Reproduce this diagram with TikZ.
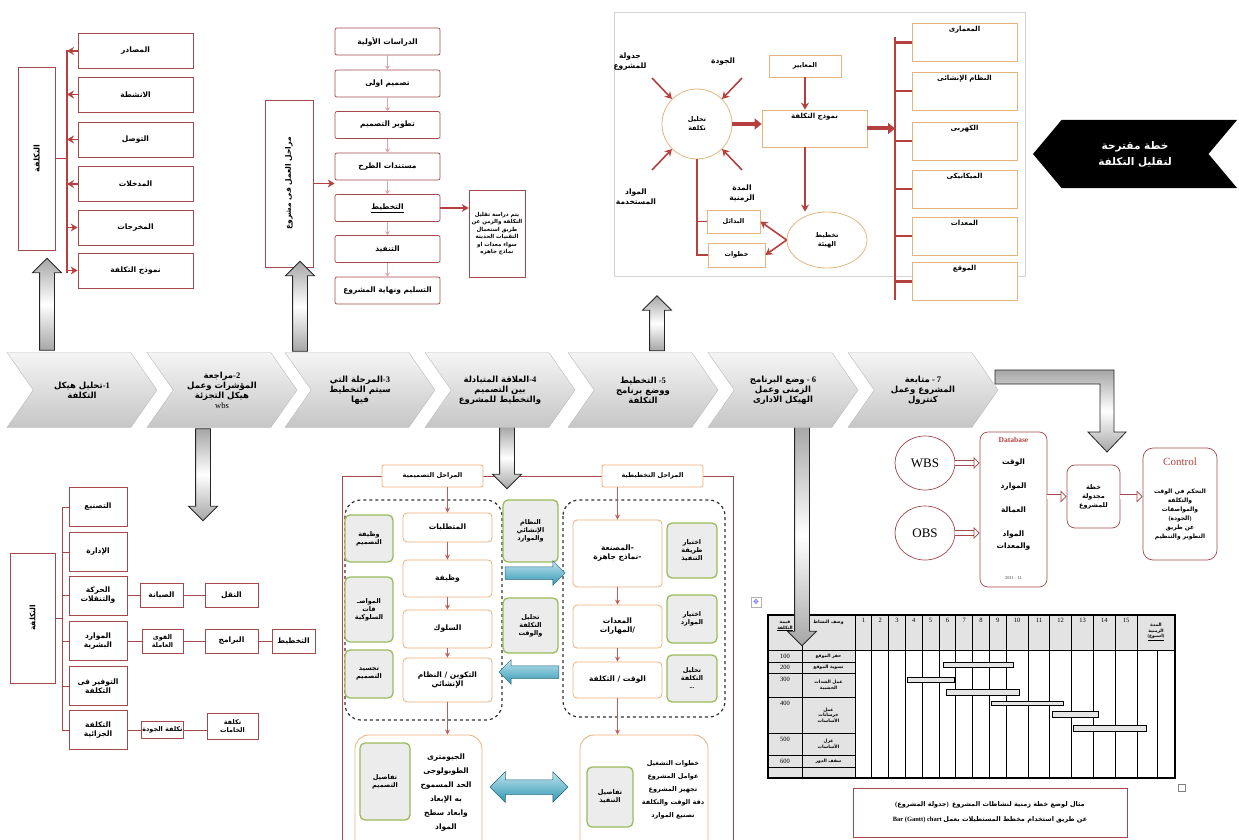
\documentclass[tikz,border=0pt]{standalone}
\usepackage{fontspec}
\setmainfont{Liberation Serif}
\newfontfamily\arabicfont[Script=Arabic]{DejaVu Sans}
\newfontfamily\symfont{DejaVu Sans}
\TeXXeTstate=1
\usepackage{xcolor}
\usepackage{tikz}
\usetikzlibrary{arrows.meta,positioning,shapes.symbols,shapes.arrows,shapes.geometric}

\definecolor{darkred}{HTML}{B5403F}
\definecolor{boxred}{HTML}{A5484B}
\definecolor{tanline}{HTML}{E4B47C}
\definecolor{orangeline}{HTML}{F0AE78}
\definecolor{greenline}{HTML}{9BBB59}
\definecolor{cyanarr}{HTML}{35A8C8}
\definecolor{pinkarr}{HTML}{E2A3A3}

\newcommand{\artxt}[1]{{\arabicfont\beginR #1\endR}}

\begin{document}
\begin{tikzpicture}[
  x=1pt, y=-1pt,
  every node/.style={font=\bfseries\fontsize{7.5}{9}\selectfont, inner sep=1pt, align=center},
  redbox/.style={draw=boxred, line width=0.7pt},
  costitem/.style={redbox, minimum width=115pt, minimum height=35pt},
  stagebox/.style={redbox, rounded corners=2pt, minimum width=105pt, minimum height=27pt},
  cbox/.style={redbox, minimum width=58pt, minimum height=39pt},
  sbox/.style={redbox, minimum height=24pt},
  tanbox/.style={draw=tanline, line width=0.8pt, fill=white, minimum width=105pt, minimum height=38pt},
  tanlab/.style={anchor=north, inner sep=3pt, font=\bfseries\fontsize{7}{8}\selectfont},
  orbox/.style={draw=orangeline, line width=0.8pt, fill=white, rounded corners=4pt},
  grbox/.style={draw=greenline, line width=1.3pt, fill=gray!15, rounded corners=5pt},
  dashzone/.style={draw=black!80, dashed, line width=1.2pt, rounded corners=16pt},
  chev/.style={signal, signal to=east, signal from=west, signal pointer angle=110,
    draw=gray!55, top color=gray!8, bottom color=gray!45, minimum width=150pt,
    minimum height=75pt, font=\bfseries\fontsize{8.5}{10}\selectfont},
  blockarr/.style={single arrow, draw=black!85, line width=0.8pt, top color=gray!70,
    bottom color=gray!70, middle color=white, inner xsep=0pt, inner ysep=7pt,
    minimum width=28pt, single arrow head extend=7pt, single arrow head indent=0pt},
  cyarr/.style={single arrow, draw=cyanarr!60!black, line width=0.5pt, top color=cyanarr!30,
    bottom color=cyanarr!90!black, inner xsep=0pt, inner ysep=6pt, minimum width=24pt,
    single arrow head extend=6pt},
  cyboth/.style={double arrow, draw=cyanarr!60!black, line width=0.5pt, top color=cyanarr!30,
    bottom color=cyanarr!90!black, inner xsep=0pt, inner ysep=7pt, minimum width=30pt,
    double arrow head extend=8pt},
  rarr/.style={-{Stealth[length=7pt,width=8pt]}, draw=darkred, line width=1.6pt},
  sarr/.style={-{Stealth[length=5pt,width=5pt]}, draw=darkred!85, line width=0.9pt},
  parr/.style={-{Stealth[length=4pt,width=5pt]}, draw=pinkarr, line width=1.2pt},
  fatarr/.style={-{Triangle[length=7pt,width=11pt]}, draw=darkred, line width=4pt},
  hollow/.style={draw=boxred, line width=0.7pt, double=white, double distance=4pt,
    -{Triangle[open, length=6pt, width=12pt]}},
  rline/.style={draw=boxred, line width=0.8pt},
  trunkline/.style={draw=darkred, line width=2.5pt},
  tinytxt/.style={font=\bfseries\fontsize{4.5}{5.5}\selectfont},
  numtxt/.style={font=\fontsize{6.5}{7}\selectfont}
]
\useasboundingbox (0,0) rectangle (1239,840);

% ---- cost breakdown (top left)
\node[redbox, rotate=90, minimum width=183pt, minimum height=37pt, font=\bfseries\fontsize{8}{9}\selectfont] (costbig) at (36.5,158.5) {\artxt{التكلفة}};
\coordinate (trtl) at (67,50);
\coordinate (trbl) at (67,273);
\draw[rline, draw=darkred, line width=1.4pt] (trtl) -- (trbl);
\draw[rline, draw=darkred, line width=1.4pt] (costbig.south) -- (costbig.south -| trtl);
\node[costitem] (srcs) at (135.5,51) {\artxt{المصادر}};
\node[costitem] (acts) at (135.5,94.5) {\artxt{الانشطة}};
\node[costitem] (reach) at (135.5,139.5) {\artxt{التوصل}};
\node[costitem] (inputs) at (135.5,184) {\artxt{المدخلات}};
\node[costitem] (outputs) at (135.5,227.5) {\artxt{المخرجات}};
\node[costitem] (cmodel) at (135.5,270.5) {\artxt{نموذج التكلفة}};
\draw[rarr] (srcs.west) -- (srcs.west -| trtl);
\draw[rarr] (acts.west) -- (acts.west -| trtl);
\draw[rarr] (reach.west) -- (reach.west -| trtl);
\draw[rarr] (inputs.west) -- (inputs.west -| trtl);
\draw[rarr] (outputs.west -| trtl) -- (outputs.west);
\draw[rarr] (cmodel.west -| trtl) -- (cmodel.west);

% ---- project stages
\node[redbox, rotate=90, minimum width=167pt, minimum height=48pt] (phases) at (289,183.5) {\artxt{مراحل العمل فى مشروع}};
\node[stagebox] (st1) at (387.5,41.5) {\artxt{الدراسات الأولية}};
\node[stagebox] (st2) at (387.5,83.5) {\artxt{تصميم اولى}};
\node[stagebox] (st3) at (387.5,125) {\artxt{تطوير التصميم}};
\node[stagebox] (st4) at (387.5,166.5) {\artxt{مستندات الطرح}};
\node[stagebox] (st5) at (387.5,208) {\underline{\artxt{التخطيط}}};
\node[stagebox] (st6) at (387.5,249) {\artxt{التنفيذ}};
\node[stagebox] (st7) at (387.5,290.5) {\artxt{التسليم ونهاية المشروع}};
\draw[parr] (st1) -- (st2);
\draw[parr] (st2) -- (st3);
\draw[parr] (st3) -- (st4);
\draw[parr] (st4) -- (st5);
\draw[parr] (st5) -- (st6);
\draw[parr] (st6) -- (st7);
\draw[rarr] (phases.south) -- (phases.south -| st4.west);
\node[redbox, minimum width=56pt, minimum height=87pt, font=\bfseries\fontsize{5.5}{7.5}\selectfont] (note) at (497,233.5)
  {\artxt{يتم دراسة تقليل}\\\artxt{التكلفة والزمن عن}\\\artxt{طريق استعمال}\\\artxt{التقنيات الحديثة}\\\artxt{سواء معدات او}\\\artxt{نماذج جاهزه}};
\draw[rarr] (st5.east) -- (st5.east -| note.west);

% ---- cost model panel (top right)
\draw[gray!35, line width=0.8pt] (614,12) rectangle (1025,276);
\node[font=\bfseries\fontsize{7.5}{10}\selectfont] (schedtxt) at (630,62) {\artxt{جدولة}\\\artxt{للمشروع}};
\node[font=\bfseries\fontsize{7.5}{10}\selectfont] (qualtxt) at (723,62) {\artxt{الجودة}};
\node[font=\bfseries\fontsize{7.5}{10}\selectfont] (matstxt) at (636,197) {\artxt{المواد}\\\artxt{المستخدمة}};
\node[font=\bfseries\fontsize{7.5}{10}\selectfont] (durtxt) at (742,194) {\artxt{المدة}\\\artxt{الزمنية}};
\node[circle, draw=tanline, line width=0.8pt, minimum size=70pt, font=\bfseries\fontsize{6.5}{9}\selectfont] (costan) at (697,124) {\artxt{تحليل}\\\artxt{تكلفة}};
\coordinate (schin) at (652,78);
\coordinate (qin) at (742,78);
\coordinate (matin) at (652,170);
\coordinate (durin) at (742,170);
\draw[rarr] (schin) -- (costan.135);
\draw[rarr] (qin) -- (costan.45);
\draw[rarr] (matin) -- (costan.225);
\draw[rarr] (durin) -- (costan.-45);
\node[tanbox, minimum width=72pt, minimum height=22pt, font=\bfseries\fontsize{6.5}{8}\selectfont] (stdbox) at (805,66) {\artxt{المعايير}};
\node[tanbox, minimum height=37pt] (cmod) at (814.5,128.5) {};
\node[tanlab] (cmodtxt) at (cmod.north) {\artxt{نموذج التكلفة}};
\draw[rarr] (stdbox.south) -- (stdbox.south |- cmod.north);
\draw[fatarr] (costan.east) -- (costan.east -| cmod.west);
\node[ellipse, draw=tanline, line width=0.8pt, minimum width=80pt, minimum height=56pt, font=\bfseries\fontsize{6.5}{9}\selectfont] (plan) at (827,240) {\artxt{تخطيط}\\\artxt{الهيئة}};
\draw[rarr] (stdbox.south |- cmod.south) -- (stdbox.south |- plan.north);
\node[tanbox, minimum width=53pt, minimum height=23pt, font=\bfseries\fontsize{6.5}{8}\selectfont] (altern) at (733.5,221.5) {\artxt{البدائل}};
\node[tanbox, minimum width=57pt, minimum height=24pt, font=\bfseries\fontsize{6.5}{8}\selectfont] (steps) at (736.5,255) {\artxt{خطوات}};
\draw[rarr] (plan.west) -- (altern.east);
\draw[rarr] (plan.west) -- (steps.east);
\draw[trunkline, line width=1.8pt] (costan.south) -- (costan.south |- steps.west) -- (steps.west);
\draw[trunkline, line width=1.8pt] (costan.south |- altern.west) -- (altern.west);
\coordinate (rtop) at (895,37);
\coordinate (rbot) at (895,300);
\draw[trunkline] (rtop) -- (rbot);
\draw[fatarr] (cmod.east) -- (cmod.east -| rtop);
\node[tanbox] (archi) at (964.5,42.5) {};
\node[tanbox] (struct) at (964.5,91) {};
\node[tanbox] (elec) at (964.5,141) {};
\node[tanbox] (mech) at (964.5,189) {};
\node[tanbox] (equip) at (964.5,236) {};
\node[tanbox] (site) at (964.5,281.5) {};
\node[tanlab] (architxt) at (archi.north) {\artxt{المعمارى}};
\node[tanlab] (structtxt) at (struct.north) {\artxt{النظام الإنشائى}};
\node[tanlab] (electxt) at (elec.north) {\artxt{الكهربى}};
\node[tanlab] (mechtxt) at (mech.north) {\artxt{الميكانيكى}};
\node[tanlab] (equiptxt) at (equip.north) {\artxt{المعدات}};
\node[tanlab] (sitetxt) at (site.north) {\artxt{الموقع}};
\draw[trunkline] (rtop |- archi.west) -- (archi.west);
\draw[trunkline] (rtop |- struct.west) -- (struct.west);
\draw[trunkline] (rtop |- elec.west) -- (elec.west);
\draw[trunkline] (rtop |- mech.west) -- (mech.west);
\draw[trunkline] (rtop |- equip.west) -- (equip.west);
\draw[trunkline] (rtop |- site.west) -- (site.west);

% ---- proposal flag
\node[signal, signal to=west, signal from=east, signal pointer angle=100, fill=black, minimum width=204pt, minimum height=68pt, text=white, font=\bfseries\fontsize{10.5}{16}\selectfont] (propose) at (1135,154) {\artxt{خطة مقترحة}\\\artxt{لتقليل التكلفة}};

% ---- cost tree (bottom left)
\node[redbox, rotate=90, minimum width=130pt, minimum height=45pt, font=\bfseries\fontsize{7.5}{9}\selectfont] (costall) at (32.5,618) {\artxt{التكلفة}};
\coordinate (t2top) at (62,507);
\coordinate (t2bot) at (62,730);
\draw[rline] (t2top) -- (t2bot);
\draw[rline] (costall.south) -- (costall.south -| t2top);
\node[cbox] (manuf) at (98,507) {\artxt{التصنيع}};
\node[cbox] (admin) at (98,552) {\artxt{الإدارة}};
\node[cbox] (moves) at (98,595.5) {\artxt{الحركة}\\\artxt{والتنقلات}};
\node[cbox] (hres) at (98,641) {\artxt{الموارد}\\\artxt{البشرية}};
\node[cbox] (saving) at (98,686) {\artxt{التوفير فى}\\\artxt{التكلفة}};
\node[cbox] (penal) at (98,730) {\artxt{التكلفة}\\\artxt{الجزائية}};
\draw[rline] (manuf.west -| t2top) -- (manuf.west);
\draw[rline] (admin.west -| t2top) -- (admin.west);
\draw[rline] (moves.west -| t2top) -- (moves.west);
\draw[rline] (hres.west -| t2top) -- (hres.west);
\draw[rline] (saving.west -| t2top) -- (saving.west);
\draw[rline] (penal.west -| t2top) -- (penal.west);
\node[sbox, minimum width=43pt] (maint) at (161.5,595.5) {\artxt{الصيانة}};
\node[sbox, minimum width=53pt] (transp) at (231.5,595.5) {\artxt{النقل}};
\node[sbox, minimum width=41pt, font=\bfseries\fontsize{6.5}{7.5}\selectfont] (labor) at (162.5,641) {\artxt{القوى}\\\artxt{العاملة}};
\node[sbox, minimum width=53pt] (progs) at (231.5,641) {\artxt{البرامج}};
\node[sbox, minimum width=43pt] (planning) at (293.5,641) {\artxt{التخطيط}};
\node[sbox, minimum width=41pt, minimum height=17pt, font=\bfseries\fontsize{6.5}{7.5}\selectfont] (qcost) at (162.5,730) {\artxt{تكلفة الجودة}};
\node[sbox, minimum width=51pt, minimum height=26pt, font=\bfseries\fontsize{6.5}{7.5}\selectfont] (mcost) at (232.5,726) {\artxt{تكلفة}\\\artxt{الخامات}};
\draw[rline] (moves.east) -- (maint.west);
\draw[rline] (maint.east) -- (transp.west);
\draw[rline] (hres.east) -- (labor.west);
\draw[rline] (labor.east) -- (progs.west);
\draw[rline] (progs.east) -- (planning.west);
\draw[rline] (penal.east) -- (qcost.west);
\draw[rline] (qcost.east) -- (qcost.east -| mcost.west);

% ---- design / planning relation (bottom middle)
\draw[rline] (342,476) rectangle (733,845);
\node[orbox, rounded corners=2pt, minimum width=101pt, minimum height=22pt, font=\bfseries\fontsize{6.5}{8}\selectfont] (deshead) at (432.5,476) {\artxt{المراحل التصميمية}};
\node[orbox, rounded corners=2pt, minimum width=101pt, minimum height=22pt, font=\bfseries\fontsize{6.5}{8}\selectfont] (planhead) at (652.5,476) {\artxt{المراحل التخطيطية}};
\draw[dashzone] (345,500) rectangle (502,720);
\draw[dashzone] (563,500) rectangle (725,717);
\node[orbox, minimum width=89pt, minimum height=29pt] (reqs) at (447.5,527.5) {\artxt{المتطلبات}};
\node[orbox, minimum width=89pt, minimum height=37pt] (func) at (447.5,578.5) {\artxt{وظيفة}};
\node[orbox, minimum width=89pt, minimum height=38pt] (behav) at (447.5,629) {\artxt{السلوك}};
\node[orbox, minimum width=89pt, minimum height=44pt] (form) at (447.5,680) {\artxt{التكوين / النظام}\\\artxt{الإنشائي}};
\node[grbox, minimum width=48pt, minimum height=47pt, font=\bfseries\fontsize{6.5}{8}\selectfont] (desfn) at (369,538.5) {\artxt{وظيفة}\\\artxt{التصميم}};
\node[grbox, minimum width=48pt, minimum height=65pt, font=\bfseries\fontsize{6.5}{8}\selectfont] (specs) at (369,609.5) {\artxt{المواصـ}\\\artxt{فات}\\\artxt{السلوكية}};
\node[grbox, minimum width=48pt, minimum height=48pt, font=\bfseries\fontsize{6.5}{8}\selectfont] (embody) at (369,674) {\artxt{تجسيد}\\\artxt{التصميم}};
\node[grbox, minimum width=55pt, minimum height=62pt, font=\bfseries\fontsize{6.5}{8}\selectfont] (structres) at (530.5,531) {\artxt{النظام}\\\artxt{الإنشائي}\\\artxt{والموارد}};
\node[grbox, minimum width=55pt, minimum height=55pt, font=\bfseries\fontsize{6.5}{8}\selectfont] (costtime) at (530.5,625.5) {\artxt{تحليل}\\\artxt{التكلفة}\\\artxt{والوقت}};
\node[cyarr, minimum height=60pt] (tor) at (532,573) {};
\node[cyarr, rotate=180, minimum height=60pt] (tol) at (532,672) {};
\node[orbox, minimum width=89pt, minimum height=67pt] (prefab) at (617.5,553.5) {\artxt{-المصنعة}\\\artxt{-نماذج جاهزة}};
\node[orbox, minimum width=89pt, minimum height=43pt] (equipsk) at (617.5,626.5) {\artxt{المعدات}\\\artxt{/المهارات}};
\node[orbox, minimum width=89pt, minimum height=36pt] (timecost) at (617.5,680) {\artxt{الوقت / التكلفة}};
\node[grbox, minimum width=50pt, minimum height=55pt, font=\bfseries\fontsize{6.5}{8}\selectfont] (method) at (692,550.5) {\artxt{اختيار}\\\artxt{طريقة}\\\artxt{التنفيذ}};
\node[grbox, minimum width=50pt, minimum height=48pt, font=\bfseries\fontsize{6.5}{8}\selectfont] (chres) at (692,619) {\artxt{اختيار}\\\artxt{الموارد}};
\node[grbox, minimum width=50pt, minimum height=47pt, font=\bfseries\fontsize{6.5}{8}\selectfont] (costan2) at (692,678.5) {\artxt{تحليل}\\\artxt{التكلفة}\\...};
\node[orbox, rounded corners=14pt, minimum width=127pt, minimum height=120pt] (desdet) at (418.5,795) {};
\node[grbox, minimum width=50pt, minimum height=77pt, font=\bfseries\fontsize{6.5}{8}\selectfont] (desdetail) at (385,781.5) {\artxt{تفاصيل}\\\artxt{التصميم}};
\node[font=\bfseries\fontsize{7.5}{14}\selectfont] (geomtxt) at (446,793) {\artxt{الجيومترى}\\\artxt{الطوبولوجى}\\\artxt{الحد المسموح}\\\artxt{به الإبعاد}\\\artxt{وابعاد سطح}\\\artxt{المواد}};
\node[orbox, rounded corners=14pt, minimum width=128pt, minimum height=120pt] (exedet) at (644,795) {};
\node[grbox, minimum width=46pt, minimum height=60pt, font=\bfseries\fontsize{6.5}{8}\selectfont] (exedetail) at (610,797) {\artxt{تفاصيل}\\\artxt{التنفيذ}};
\node[font=\bfseries\fontsize{6.5}{13}\selectfont] (opstxt) at (673,790) {\artxt{خطوات التشغيل}\\\artxt{عوامل المشروع}\\\artxt{تجهيز المشروع}\\\artxt{دقة الوقت والتكلفة}\\\artxt{تصنيع الموارد}};
\node[cyboth, minimum height=78pt] (both) at (529,787) {};
\draw[sarr] (deshead.south -| reqs.north) -- (reqs.north);
\draw[sarr] (reqs) -- (func);
\draw[sarr] (func) -- (behav);
\draw[sarr] (behav) -- (form);
\draw[sarr] (form.south) -- (form.south |- desdet.north);
\draw[sarr] (planhead.south -| prefab.north) -- (prefab.north);
\draw[sarr] (prefab) -- (equipsk);
\draw[sarr] (equipsk) -- (timecost);
\draw[sarr] (timecost.south) -- (timecost.south |- exedet.north);

% ---- WBS / control
\node[ellipse, draw=boxred, line width=0.7pt, minimum width=60pt, minimum height=54pt, font=\fontsize{13}{14}\selectfont] (wbs) at (925,463) {WBS};
\node[ellipse, draw=boxred, line width=0.7pt, minimum width=60pt, minimum height=54pt, font=\fontsize{13}{14}\selectfont] (obs) at (925,533) {OBS};
\node[redbox, rounded corners=8pt, minimum width=67pt, minimum height=155pt] (dbase) at (1013.5,509.5) {};
\node[text=darkred, font=\bfseries\fontsize{7.5}{9}\selectfont] (dbtitle) at (1013.5,440) {Database};
\node (dbtime) at (1013.5,463) {\artxt{الوقت}};
\node (dbres) at (1013.5,487) {\artxt{الموارد}};
\node (dblab) at (1013.5,510) {\artxt{العمالة}};
\node[font=\bfseries\fontsize{7.5}{12}\selectfont] (dbmat) at (1013.5,541) {\artxt{المواد}\\\artxt{والمعدات}};
\node[tinytxt, text=gray] (dbfoot) at (1013.5,578) {2011 - 11};
\node[redbox, rounded corners=8pt, minimum width=53pt, minimum height=63pt, font=\bfseries\fontsize{6.5}{9}\selectfont] (sched) at (1093.5,496.5) {\artxt{خطة}\\\artxt{مجدولة}\\\artxt{للمشروع}};
\node[redbox, rounded corners=10pt, minimum width=74pt, minimum height=112pt] (ctrl) at (1180,504) {};
\node[text=darkred, font=\fontsize{11}{12}\selectfont] (ctrltitle) at (1180,462) {Control};
\node[font=\bfseries\fontsize{6}{9}\selectfont] (ctrltxt) at (1180,514) {\artxt{التحكم في الوقت}\\\artxt{والتكلفة}\\\artxt{والمواصفات}\\(\artxt{الجودة})\\\artxt{عن طريق}\\\artxt{التطوير والتنظيم}};
\draw[hollow] (wbs.east) -- (wbs.east -| dbase.west);
\draw[hollow] (obs.east) -- (obs.east -| dbase.west);
\draw[hollow] (dbase.east |- sched.west) -- (sched.west);
\draw[hollow] (sched.east) -- (sched.east -| ctrl.west);

% ---- gantt chart
\fill[gray!22] (768,615) rectangle (1175,650);
\fill[gray!22] (768,650) rectangle (855,778);
\foreach \ya in {650,662,673,697,733,755,767}
  \draw[line width=0.8pt] (768,\ya) -- (855,\ya);
\draw[line width=0.8pt] (855,650) -- (1175,650);
\foreach \xa in {802,855,871.8,888.6,905.4,922.2,939,955.8,972.6,989.4,1006.2,1028,1049.8,1071.6,1093.4,1115.2,1137}
  \draw[line width=0.8pt] (\xa,615) -- (\xa,778);
\draw[line width=0.8pt] (1157,650) -- (1157,778);
\draw[line width=1.1pt] (768,615) rectangle (1175,778);
\foreach \n/\xa in {1/863.4,2/880.2,3/897,4/913.8,5/930.6,6/947.4,7/964.2,8/981,9/997.8,10/1017.1,11/1038.9,12/1060.7,13/1082.5,14/1104.3,15/1126.1}
  \node[numtxt, anchor=north] (wk\n) at (\xa,617) {\n};
\node[tinytxt] (hcost) at (785,626) {\artxt{قيمة}\\\underline{\artxt{التكلفة}}};
\node[tinytxt] (hact) at (828.5,622) {\artxt{وصف النشاط}};
\node[tinytxt] (hdur) at (1156,632) {\artxt{المدة}\\\artxt{الزمنية}\\\underline{(\artxt{اسبوع})}};
\node[numtxt] (v1) at (785,656) {100};
\node[numtxt] (v2) at (785,667.5) {200};
\node[numtxt] (v3) at (785,679) {300};
\node[numtxt] (v4) at (785,703) {400};
\node[numtxt] (v5) at (785,739) {500};
\node[numtxt] (v6) at (785,761) {600};
\node[tinytxt] (a1) at (828.5,656) {\artxt{حفر الموقع}};
\node[tinytxt] (a2) at (828.5,667.5) {\artxt{تسوية الموقع}};
\node[tinytxt] (a3) at (828.5,685) {\artxt{عمل الشدات}\\\artxt{الخشبية}};
\node[tinytxt] (a4) at (828.5,715) {\artxt{عمل}\\\artxt{خرسانات}\\\artxt{الأساسات}};
\node[tinytxt] (a5) at (828.5,744) {\artxt{عزل}\\\artxt{الأساسات}};
\node[tinytxt] (a6) at (828.5,761) {\artxt{سقف الدور}};
\draw[fill=gray!20, line width=0.8pt] (943,662) rectangle (1013,667);
\draw[fill=gray!20, line width=0.8pt] (907,677) rectangle (954,682);
\draw[fill=gray!20, line width=0.8pt] (946,689) rectangle (1019,695);
\draw[fill=gray!20, line width=0.8pt] (991,701) rectangle (1063,705);
\draw[fill=gray!20, line width=0.8pt] (1052,711) rectangle (1098,717);
\draw[fill=gray!20, line width=0.8pt] (1073,725) rectangle (1146,731);
\node[redbox, minimum width=274pt, minimum height=49pt, font=\bfseries\fontsize{6.5}{15}\selectfont] (caption) at (990,812.5)
  {(\artxt{جدولة المشروع})\ \ \artxt{مثال لوضع خطة زمنية لنشاطات المشروع}\\Bar (Gantt) chart \artxt{عن طريق استخدام مخطط المستطيلات بعمل}};
\node[draw=gray, minimum size=7pt, inner sep=0pt] (sqmark) at (1182,788) {};
\node[draw=gray!60, minimum size=10pt, inner sep=0pt, text=blue!60, font=\symfont\fontsize{7}{7}\selectfont] (handle) at (756,602) {✥};

% ---- block arrows from the phase row
\node[blockarr, rotate=90, minimum height=92pt] (upa) at (47,308) {};
\node[blockarr, rotate=90, minimum height=90pt] (upc) at (300,310) {};
\node[blockarr, rotate=90, minimum height=55pt] (upe) at (657,327) {};
\node[blockarr, rotate=-90, minimum height=92pt] (downb) at (203,471) {};
\node[blockarr, rotate=-90, minimum height=62pt] (downd) at (507,454) {};
\node[blockarr, rotate=-90, minimum height=220pt] (downf) at (802,532) {};
\draw[black!85, line width=0.8pt, top color=gray!70, bottom color=gray!70, middle color=white]
  (995,370) -- (1114,370) -- (1114,432) -- (1126,432) -- (1107,452) -- (1088,432) -- (1100,432) -- (1100,384) -- (995,384) -- cycle;

% ---- phase row (number written first, so it sits at the right end)
\node[chev] (ph1) at (82,390) {\artxt{تحليل هيكل}-1\\\artxt{التكلفة}};
\node[chev] (ph2) at (222,390) {\artxt{مراجعة}-2\\\artxt{المؤشرات وعمل}\\\artxt{هيكل التجزئة}\\{\mdseries wbs}};
\node[chev] (ph3) at (360,390) {\artxt{المرحلة التي}-3\\\artxt{سيتم التخطيط}\\\artxt{فيها}};
\node[chev] (ph4) at (500,390) {\artxt{العلاقة المتبادلة}-4\\\artxt{بين التصميم}\\\artxt{والتخطيط للمشروع}};
\node[chev] (ph5) at (643,390) {\artxt{التخطيط} -5\\\artxt{ووضع برنامج}\\\artxt{التكلفة}};
\node[chev] (ph6) at (783,390) {\artxt{وضع البرنامج} - 6\\\artxt{الزمنى وعمل}\\\artxt{الهيكل الادارى}};
\node[chev] (ph7) at (923,390) {\artxt{متابعة} - 7\\\artxt{المشروع وعمل}\\\artxt{كنترول}};
\end{tikzpicture}
\end{document}
